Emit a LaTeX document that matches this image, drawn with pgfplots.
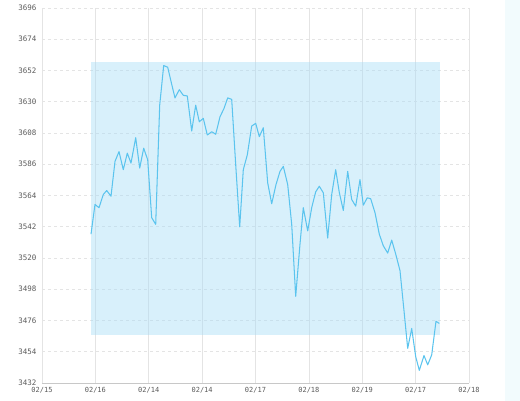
\documentclass[border=0pt]{standalone}
\usepackage{pgfplots}
\pgfplotsset{compat=1.18}
\usepackage{fontspec}
\setmainfont{DejaVu Sans}
\newfontfamily\tickfont{DejaVu Sans Mono}
\definecolor{linec}{HTML}{5BC4EE}
\definecolor{boxc}{HTML}{A9DDF6}
\definecolor{gridc}{HTML}{E4E4E4}
\definecolor{labc}{HTML}{5A5A5A}
\definecolor{sidec}{HTML}{F2FBFD}
\definecolor{axc}{HTML}{C8C8C8}
\begin{document}
\begin{tikzpicture}
\begin{axis}[
  scale only axis, width=427pt, height=375pt,
  xmin=42, xmax=469, ymin=3432, ymax=3696,
  xtick={42,95.375,148.75,202.125,255.5,308.875,362.25,415.625,469},
  xticklabels={02/15,02/16,02/14,02/14,02/17,02/18,02/19,02/17,02/18},
  ytick={3432,3454,3476,3498,3520,3542,3564,3586,3608,3630,3652,3674,3696},
  /pgf/number format/assume math mode=true,
  /pgf/number format/set thousands separator={},
  yticklabel style={font=\tickfont\fontsize{7.5}{9}\selectfont, text=labc, xshift=-2pt},
  xticklabel style={font=\tickfont\fontsize{7}{8}\selectfont, text=labc, yshift=-1pt},
  axis x line*=bottom, axis y line*=left,
  y axis line style={draw=none},
  x axis line style={draw=axc, line width=0.6pt, -},
  major tick length=0pt,
  xmajorgrids, ymajorgrids,
  x grid style={draw=gridc, line width=0.6pt},
  y grid style={draw=gridc, line width=0.6pt, dashed},
  clip=false,
]
\addplot[draw=none, fill=boxc, fill opacity=0.45] coordinates {(91,3466) (440,3466) (440,3658) (91,3658)} -- cycle;
\addplot[linec, line width=1.05pt, line join=round] coordinates {
(91,3536.8) (95,3557.7) (99,3555.4) (103.3,3564.7) (106.7,3567.5) (111,3563.5)
(115,3588.0) (119,3594.9) (123.3,3582.2) (127.3,3593.8) (131,3586.8) (135.7,3604.7)
(139.7,3583.3) (143.7,3597.3) (147.7,3589.1) (151.7,3548.4) (155.7,3543.7) (159.7,3627.6)
(163.7,3655.5) (167.7,3654.3) (171.5,3642.9) (175,3632.7) (179.3,3638.5) (183.3,3634.5)
(187.3,3634.1) (191.7,3609.4) (195.7,3627.6) (199.3,3615.9) (203.3,3618.3) (207.3,3606.6)
(211.7,3608.9) (215.7,3607.1) (220,3619.4) (224,3625.3) (227.7,3632.7) (231.7,3631.7)
(235.7,3585.7) (239.7,3541.9) (243.3,3582.2) (247.3,3592.6) (251.7,3612.9) (255.7,3614.8)
(259.3,3605.4) (263.3,3611.7) (267.7,3572.9) (271.7,3558.2) (276,3571.7) (280,3581.0)
(283.3,3584.5) (287.7,3571.7) (291.7,3543.7) (295.7,3493.0) (300,3529.8) (303.3,3555.4)
(307.7,3539.1) (311.7,3555.4) (315.7,3566.6) (319.3,3570.5) (323.3,3565.9) (327.7,3534.0)
(331.7,3564.7) (335.7,3582.2) (339.3,3566.1) (343.3,3553.5) (347.7,3581.0) (351.7,3561.2)
(355.7,3556.5) (360,3575.2) (363.3,3557.2) (367.3,3562.4) (370.7,3561.7) (375,3551.9)
(379.3,3536.8) (383.3,3528.6) (387.7,3523.5) (391.7,3532.6) (395.7,3522.8) (400,3511.1)
(403.3,3487.9) (407.7,3456.4) (411.7,3470.4) (415.7,3450.6) (419.3,3440.9) (424,3451.3)
(427.7,3444.8) (431.7,3451.8) (436,3475.5) (439.3,3473.9)
};
\end{axis}
\fill[sidec] ([shift={(36pt,30pt)}]current axis.north east) rectangle ([shift={(70pt,-30pt)}]current axis.south east);
\pgfresetboundingbox
\useasboundingbox ([shift={(-42pt,-17pt)}]current axis.south west) rectangle ([shift={(51pt,8pt)}]current axis.north east);
\end{tikzpicture}
\end{document}
